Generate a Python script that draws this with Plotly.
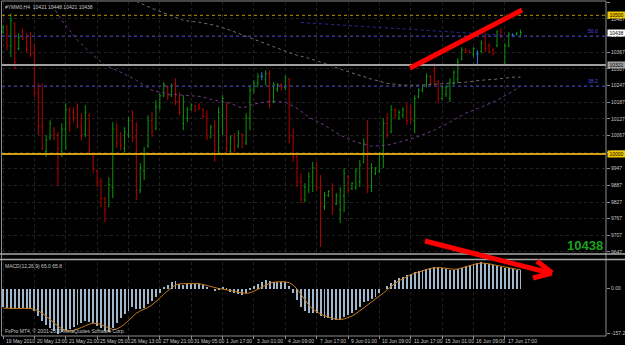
import plotly.graph_objects as go

W, H = 625, 345

# ---------------- data ----------------
opens = [10440,10460,10390,10470,10380,10440,10420,10400,10360,10220,
         10100,10010,10060,10090,10070,10010,10090,10160,10150,10140,
         10100,10070,10140,9990,9940,9900,9840,9810,9880,10090,
         10050,10020,10070,10120,10060,9870,9940,10030,10120,10090,
         10170,10210,10240,10210,10250,10190,10110,10130,10160,10175,
         10180,10160,10135,10060,10100,10010,10140,10180,10010,10060,
         10030,10070,10040,10130,10230,10255,10280,10270,10290,10190,
         10235,10250,10240,10270,10060,9990,9900,9835,9870,9900,
         9950,9880,9810,9850,9870,9820,9800,9850,9920,9875,
         9880,9900,9970,10040,9880,9930,9940,9990,10110,10080,
         10160,10130,10140,10170,10150,10120,10205,10228,10245,10280,
         10300,10260,10200,10215,10200,10255,10270,10340,10378,10372,
         10360,10360,10370,10400,10390,10375,10390,10440,10330,10390,
         10428,10430,10421]
highs = [10464,10464,10507,10475,10435,10453,10435,10439,10399,10255,
         10255,10068,10122,10097,10079,10111,10183,10169,10169,10183,
         10147,10176,10147,9996,9942,9913,9845,9917,10115,10111,
         10079,10097,10133,10158,10115,9967,10025,10140,10151,10194,
         10219,10259,10248,10255,10273,10223,10212,10169,10183,10176,
         10183,10165,10158,10104,10122,10169,10212,10183,10068,10075,
         10086,10075,10147,10248,10266,10291,10295,10302,10302,10259,
         10255,10255,10284,10273,10093,9996,9931,9895,9935,9971,
         9971,9924,9863,9870,9895,9859,9881,9949,9924,9899,
         9949,9978,10057,10122,9967,9953,10007,10129,10147,10176,
         10165,10158,10169,10187,10176,10212,10237,10248,10291,10284,
         10327,10266,10248,10248,10273,10302,10345,10385,10381,10374,
         10385,10374,10410,10435,10399,10381,10446,10453,10399,10439,
         10435,10439,10448]
lows = [10435,10374,10349,10306,10374,10410,10367,10349,10205,10068,
        10014,9989,10050,10050,9884,9989,10014,10079,10115,10093,
        10050,10061,10003,9931,9881,9809,9755,9809,9841,10021,
        10014,10007,10057,10043,9834,9859,9906,10021,10061,10086,
        10158,10205,10194,10205,10176,10140,10086,10115,10158,10151,
        10158,10129,10050,10057,9971,10003,10068,10003,9996,10003,
        10021,10021,10032,10086,10219,10241,10266,10248,10165,10183,
        10223,10230,10230,10039,9971,9881,9823,9827,9859,9863,
        9870,9665,9798,9845,9780,9816,9751,9791,9859,9870,
        9870,9881,9967,9859,9863,9924,9931,9949,10057,10075,
        10129,10122,10129,10104,10111,10075,10201,10223,10241,10248,
        10248,10183,10194,10205,10187,10248,10255,10338,10363,10363,
        10349,10320,10363,10367,10363,10356,10385,10417,10320,10385,
        10421,10428,10421]
closes = [10460,10390,10480,10330,10420,10415,10375,10360,10220,10100,
          10020,10050,10110,10070,10020,10090,10160,10110,10130,10100,
          10070,10150,10010,9950,9900,9840,9800,9890,10090,10040,
          10030,10080,10120,10060,9870,9950,10000,10120,10080,10170,
          10210,10250,10210,10245,10190,10150,10190,10160,10178,10160,
          10165,10135,10060,10095,10010,10150,10200,10020,10060,10020,
          10075,10040,10130,10230,10255,10280,10280,10290,10190,10250,
          10250,10240,10275,10060,9990,9900,9840,9880,9920,9950,
          9880,9820,9850,9865,9800,9850,9870,9930,9870,9895,
          9940,9960,10040,9880,9950,9950,10000,10110,10070,10160,
          10140,10150,10160,10120,10125,10200,10230,10245,10280,10255,
          10260,10200,10240,10240,10260,10295,10330,10375,10368,10366,
          10380,10360,10400,10380,10370,10360,10440,10425,10390,10430,
          10428,10436,10438]

macd = [-66,-68,-70,-70,-68,-68,-70,-72,-80,-95,
        -112,-128,-138,-148,-157,-152,-146,-140,-134,-128,
        -121,-114,-116,-121,-130,-139,-147,-150,-138,-119,
        -103,-90,-78,-66,-70,-72,-68,-55,-44,-28,
        -14,2,14,21,26,17,13,16,17,17,
        17,11,6,0,-8,-5,2,-6,-13,-17,
        -19,-21,-15,-4,8,17,23,28,25,24,
        23,21,23,8,-14,-40,-64,-78,-84,-84,
        -87,-97,-102,-104,-109,-109,-109,-100,-93,-85,
        -76,-64,-47,-43,-36,-28,-17,0,10,20,
        28,35,41,47,52,57,61,65,69,72,
        75,74,71,68,65,65,67,73,79,82,
        85,88,92,88,84,81,78,75,72,70,
        68,66,65]
signal = [-68,-69,-70,-70,-70,-69,-69,-70,-73,-78,
          -86,-96,-108,-120,-132,-141,-146,-148,-146,-142,
          -136,-130,-124,-121,-122,-126,-132,-139,-143,-141,
          -134,-124,-111,-98,-86,-78,-73,-66,-57,-46,
          -33,-20,-8,3,12,16,17,17,17,17,
          17,14,10,6,2,0,-2,-4,-7,-10,
          -13,-16,-17,-15,-10,-3,5,12,18,22,
          24,24,23,20,12,-2,-20,-40,-58,-72,
          -82,-89,-95,-100,-104,-107,-108,-106,-102,-96,
          -88,-78,-66,-56,-47,-38,-28,-16,-4,8,
          18,27,35,42,48,53,58,62,66,70,
          72,73,72,70,68,67,68,72,77,81,
          84,87,89,88,86,83,80,77,74,71,
          69,67,66]

# moving averages (sampled where read)
ma_slow_idx = [30,34,38,42,46,50,54,58,62,66,70,74,78,82,86,90,94,98,102,106,110,114,118,122,126,130,132]
ma_slow_val = [10583,10550,10525,10504,10482,10475,10464,10446,10424,10403,10381,10360,10345,10327,10306,10288,10270,10255,10248,10248,10252,10255,10259,10266,10270,10277,10277]
ma_mid_idx = [10,12,15,19,23,26,30,34,38,42,46,50,54,58,61,64,68,72,75,78,82,86,90,94,98,102,106,110,114,118,122,126,130,132]
ma_mid_val = [10590,10547,10482,10410,10356,10320,10295,10266,10230,10216,10212,10208,10194,10183,10165,10180,10190,10187,10165,10133,10104,10068,10043,10028,10032,10046,10064,10086,10115,10147,10169,10194,10226,10245]
trend_idx = [76, 128]
trend_val = [10474, 10428]

date_labels = ["19 May 2010","20 May 13:00","21 May 21:00","25 May 05:00","26 May 13:00",
               "27 May 21:00","31 May 05:00","1 Jun 17:00","3 Jun 01:00","4 Jun 09:00",
               "7 Jun 17:00","9 Jun 01:00","10 Jun 09:00","11 Jun 17:00","15 Jun 01:00",
               "16 Jun 09:00","17 Jun 17:00"]
date_idx = [8 * k for k in range(len(date_labels))]
price_ticks = [9647 + 60 * k for k in range(16)]

level_hi = 10500      # yellow dotted
fib_50 = 10424
res_line = 10321
fib_382 = 10244
level_lo = 10000
last_price = 10438

n = len(closes)
assert len(opens) == n and len(highs) == n and len(lows) == n
assert len(macd) == n and len(signal) == n
xs = list(range(n))

# ---------------- figure ----------------
def P(x, y):
    return x / W, 1 - y / H

X0, X1 = 2 / W, 606 / W
FONT = "Liberation Sans"
TXT = "#c8c8c8"
GRID = "#222222"

fig = go.Figure()

reg = [i for i in xs if opens[i] != closes[i]]
doj = [i for i in xs if opens[i] == closes[i]]
fig.add_trace(go.Ohlc(
    x=reg, open=[opens[i] for i in reg], high=[highs[i] for i in reg],
    low=[lows[i] for i in reg], close=[closes[i] for i in reg],
    increasing=dict(line=dict(color="#0c960c", width=1)),
    decreasing=dict(line=dict(color="#b80000", width=1)),
    tickwidth=0.3, xaxis="x", yaxis="y", hoverinfo="skip"))
fig.add_trace(go.Ohlc(
    x=doj, open=[opens[i] for i in doj], high=[highs[i] for i in doj],
    low=[lows[i] for i in doj], close=[closes[i] for i in doj],
    increasing=dict(line=dict(color="#2a7fe0", width=1)),
    decreasing=dict(line=dict(color="#2a7fe0", width=1)),
    tickwidth=0.3, xaxis="x", yaxis="y", hoverinfo="skip"))

fig.add_trace(go.Scatter(x=ma_slow_idx, y=ma_slow_val, mode="lines",
                         line=dict(color="#6e6e6e", width=1, dash="dot"),
                         xaxis="x", yaxis="y", hoverinfo="skip"))
fig.add_trace(go.Scatter(x=ma_mid_idx, y=ma_mid_val, mode="lines",
                         line=dict(color="#74388c", width=1, dash="dot"),
                         xaxis="x", yaxis="y", hoverinfo="skip"))
fig.add_trace(go.Scatter(x=trend_idx, y=trend_val, mode="lines",
                         line=dict(color="#28289c", width=1, dash="dot"),
                         xaxis="x", yaxis="y", hoverinfo="skip"))

fig.add_trace(go.Bar(x=xs, y=macd, width=0.24, marker=dict(color="#a2b6ca", line=dict(width=0)),
                     xaxis="x2", yaxis="y2", hoverinfo="skip"))
fig.add_trace(go.Scatter(x=xs, y=signal, mode="lines",
                         line=dict(color="#c87818", width=1),
                         xaxis="x2", yaxis="y2", hoverinfo="skip"))

xr = [-0.26, 153.8]
fig.update_layout(
    width=W, height=H, margin=dict(l=0, r=0, t=0, b=0),
    paper_bgcolor="black", plot_bgcolor="black", showlegend=False,
    bargap=0,
    xaxis=dict(domain=[X0, X1], range=xr, anchor="y", showticklabels=False,
               tickvals=date_idx, showgrid=True, gridcolor=GRID, griddash="dot",
               zeroline=False, rangeslider=dict(visible=False), ticks=""),
    yaxis=dict(domain=[1 - 255 / H, 1 - 2 / H], range=[9636, 10548], side="right",
               tickvals=price_ticks, ticktext=[str(v) for v in price_ticks],
               ticks="outside", ticklen=3, tickcolor="#909090",
               tickfont=dict(family=FONT, size=5, color=TXT),
               showgrid=True, gridcolor=GRID, griddash="dot", zeroline=False,
               automargin=False, anchor="x"),
    xaxis2=dict(domain=[X0, X1], range=xr, anchor="y2", showticklabels=False,
                tickvals=date_idx, ticks="outside", ticklen=3, tickcolor="#909090",
                showgrid=True, gridcolor=GRID, griddash="dot", zeroline=False),
    yaxis2=dict(domain=[1 - 335 / H, 1 - 262 / H], range=[-162, 92.4], side="right",
                tickvals=[-157.2, 0, 92.5], ticktext=["-157.2", "0.00", "92.5"],
                ticks="outside", ticklen=3, tickcolor="#909090",
                tickfont=dict(family=FONT, size=5, color=TXT),
                showgrid=False, zeroline=False, automargin=False, anchor="x2"),
)

shapes = []
def hline(level, color, width, dash):
    shapes.append(dict(type="line", xref="x domain", yref="y", x0=0, x1=1, y0=level, y1=level,
                       line=dict(color=color, width=width, dash=dash)))
hline(level_hi, "#b89400", 1, "dot")
hline(fib_50, "#3a3ab8", 1, "dot")
hline(res_line, "#a0a0a0", 2, "solid")
hline(fib_382, "#3a3ab8", 1, "dot")
hline(level_lo, "#d4a010", 2, "solid")

def seg(x0, y0, x1, y1, color, width):
    a, b = P(x0, y0)
    c, d = P(x1, y1)
    shapes.append(dict(type="line", xref="paper", yref="paper", x0=a, y0=b, x1=c, y1=d,
                       line=dict(color=color, width=width)))

# frame
seg(1.5, 1, 1.5, 336, "#8c8c8c", 1)
seg(1.5, 1, 606, 1, "#8c8c8c", 1)
seg(606, 1, 606, 336, "#8c8c8c", 1)
seg(1.5, 336, 606, 336, "#8c8c8c", 1)
seg(0, 254, 625, 254, "#a8a8a8", 1.5)
seg(0, 259.5, 625, 259.5, "#a8a8a8", 1.5)

# red arrows (annotations drawn on the screenshot)
seg(410, 68, 522, 10, "#ff0000", 5)
seg(425, 241, 550, 273, "#ff0000", 5)
seg(552, 273, 537, 261, "#ff0000", 5)
seg(552, 273, 533, 278, "#ff0000", 5)
fig.update_layout(shapes=shapes)

ann = []
def text(x, y, s, size=5, color=TXT, xanchor="left", yanchor="middle", bold=False):
    a, b = P(x, y)
    ann.append(dict(x=a, y=b, xref="paper", yref="paper", text=("<b>%s</b>" % s) if bold else s,
                    showarrow=False, xanchor=xanchor, yanchor=yanchor,
                    font=dict(family=FONT, size=size, color=color)))

text(3, 7, "#YMM0,H4&nbsp;&nbsp;10421 10448 10421 10438")
text(3, 266, "MACD(12,26,9) 65.0 65.8")
text(3, 331, "FxPro MT4, © 2001-2010 MetaQuotes Software Corp.")
text(605, 245, str(last_price), size=13, color="#1ea01e", xanchor="right", bold=True)

for i, lab in zip(date_idx, date_labels):
    ann.append(dict(x=i, y=1 - 341 / H, xref="x2", yref="paper", text=lab, showarrow=False,
                    xanchor="left", yanchor="middle", xshift=1,
                    font=dict(family=FONT, size=5, color=TXT)))

def box(level, s, bg, fg):
    ann.append(dict(x=X1, y=level, xref="paper", yref="y", text=s, showarrow=False,
                    xanchor="left", yanchor="middle", bgcolor=bg, borderpad=0,
                    width=17, height=6, xshift=1,
                    font=dict(family=FONT, size=5, color=fg)))
box(level_hi, str(level_hi), "#f0c800", "black")
box(last_price, str(last_price), "#ffffff", "black")
box(res_line, str(res_line), "#a0a0a0", "black")
box(level_lo, str(level_lo), "#f0c800", "black")

for lv, s in [(fib_50, "50.0"), (fib_382, "38.2")]:
    ann.append(dict(x=600 / W, y=lv, xref="paper", yref="y", text=s, showarrow=False,
                    xanchor="right", yanchor="bottom",
                    font=dict(family=FONT, size=5, color="#5050e0")))

fig.update_layout(annotations=ann)
fig.write_html("out.html")
